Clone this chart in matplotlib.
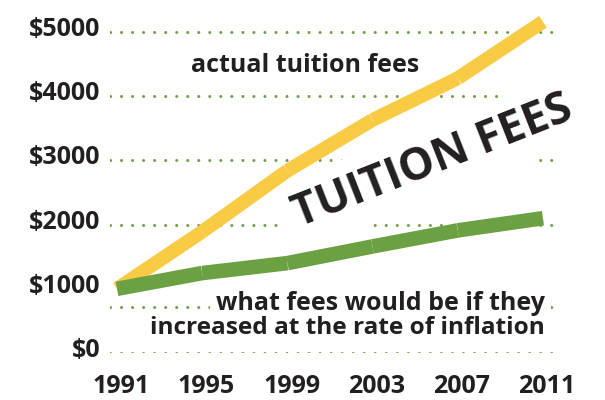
import matplotlib
matplotlib.use("Agg")
import matplotlib.pyplot as plt
from matplotlib.transforms import ScaledTranslation

# --- data ---
years = [1991, 1995, 1999, 2003, 2007, 2011]
actual_fees = [1000, 1890, 2840, 3630, 4280, 5160]
inflation_fees = [1000, 1245, 1400, 1660, 1910, 2100]

y_ticks = [0, 1000, 2000, 3000, 4000, 5000]
y_tick_labels = [r'\$0', r'\$1000', r'\$2000', r'\$3000', r'\$4000', r'\$5000']
x_tick_labels = ['1991', '1995', '1999', '2003', '2007', '2011']

# --- style ---
YELLOW = '#F9CB45'
GREEN = '#6CA143'
INK = '#231F20'
plt.rcParams['font.family'] = ['Open Sans', 'DejaVu Sans']

W, H = 605, 400
fig = plt.figure(figsize=(W / 100, H / 100), dpi=100)
fig.patch.set_facecolor('white')

# axes: left 110px, right 560px, top 15px, bottom (y=0) at 353px
ax = fig.add_axes([110 / W, (H - 353) / H, 450 / W, 338 / H])
ax.set_xlim(1990.67, 2011.80)
ax.set_ylim(0, 5265)
ax.set_facecolor('none')
for s in ax.spines.values():
    s.set_visible(False)

# dotted grid lines (the $1000 one sits a bit lower in the original)
grid_levels = [0, 715, 2000, 3000, 4000, 5000]
for lev in grid_levels:
    ax.axhline(lev, xmin=0, xmax=0.995, color=GREEN, lw=2.2,
               linestyle=(0, (0.01, 3.6)), dash_capstyle='round', zorder=1)

# lines, drawn segment by segment like the original artwork
for i in range(len(years) - 1):
    ax.plot(years[i:i + 2], actual_fees[i:i + 2], color=YELLOW, lw=10,
            solid_capstyle='butt', zorder=4, clip_on=False)
for i in range(len(years) - 1):
    ax.plot(years[i:i + 2], inflation_fees[i:i + 2], color=GREEN, lw=10.5,
            solid_capstyle='butt', zorder=5, clip_on=False)

# ticks
ax.set_yticks(y_ticks, y_tick_labels)
ax.set_xticks(years, x_tick_labels)
ax.tick_params(axis='both', length=0, labelsize=18, labelcolor=INK)
ax.tick_params(axis='y', pad=7)
ax.tick_params(axis='x', pad=15)
for lab in ax.get_yticklabels():
    lab.set_fontweight('bold')
    lab.set_transform(lab.get_transform() + ScaledTranslation(0, 4 / 72, fig.dpi_scale_trans))
for lab in ax.get_xticklabels():
    lab.set_fontweight('bold')
    lab.set_transform(lab.get_transform() + ScaledTranslation(3 / 72, 0, fig.dpi_scale_trans))

# annotations (placed in figure pixels, but kept inside the axes so the
# white boxes sit between the dotted grid and the data lines)
tf = fig.transFigure
ax.text(305 / W, 1 - 72 / H, 'actual tuition fees', transform=tf, ha='center',
        va='baseline', fontsize=18, fontweight='bold', color=INK, zorder=3)

box = dict(facecolor='white', edgecolor='none', boxstyle='square,pad=0.25')
ax.text(545 / W, 1 - 310 / H, 'what fees would be if they', transform=tf, ha='right',
        va='baseline', fontsize=18, fontweight='bold', color=INK, bbox=box, zorder=3)
ax.text(545 / W, 1 - 334 / H, 'increased at the rate of inflation', transform=tf,
        ha='right', va='baseline', fontsize=17.6, fontweight='bold', color=INK, zorder=3)

ax.text(433 / W, 1 - 162 / H, 'TUITION FEES', transform=tf, ha='center', va='center',
        rotation=21.5, rotation_mode='anchor', fontsize=32, fontweight='bold',
        color=INK, bbox=dict(facecolor='white', edgecolor='none', boxstyle='square,pad=0.3'),
        zorder=3)

fig.savefig('out.png', dpi=100, facecolor='white')
